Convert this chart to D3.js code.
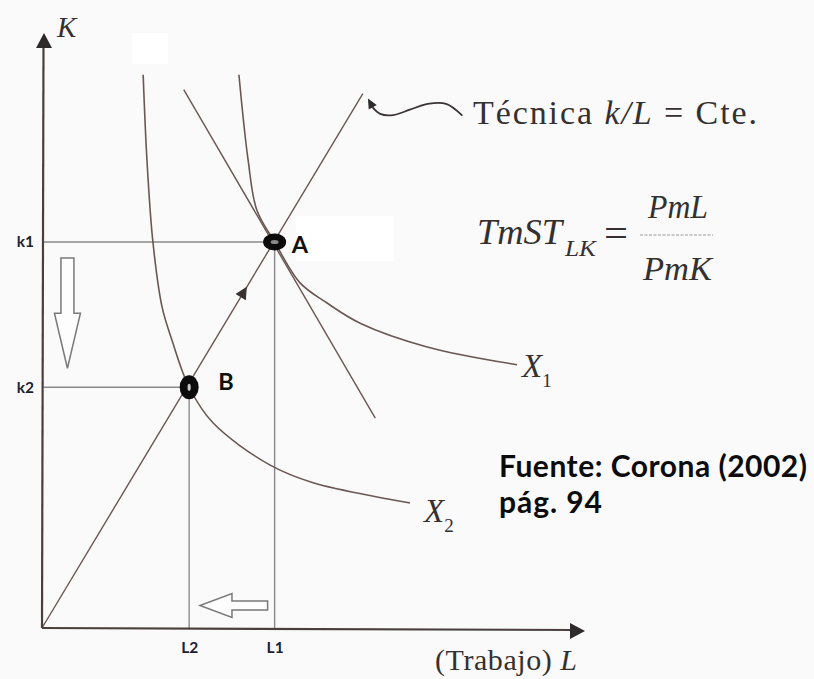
<!DOCTYPE html>
<html>
<head>
<meta charset="utf-8">
<script src="https://cdn.jsdelivr.net/npm/d3@7"></script>
<style>
  html, body { margin: 0; padding: 0; background: #fafafa; }
  svg { display: block; }
</style>
</head>
<body>
<svg id="chart" width="814" height="679"></svg>
<script>
// Capital (K) against labour (L): two isoquants, a constant k/L technique ray,
// and the move from A to B along that ray.

const laborDomain = [0, 10];
const capitalDomain = [0, 10];

const laborTicks = [2.72, 4.30];
const laborTickLabels = ["L2", "L1"];
const capitalTicks = [6.51, 4.06];
const capitalTickLabels = ["k1", "k2"];

const pointNames = ["A", "B"];
const pointL = [4.30, 2.72];
const pointK = [6.51, 4.06];

// isoquants, (L, K) pairs
const isoquantX1 = [[3.64, 9.33], [3.81, 7.89], [3.97, 7.05], [4.30, 6.51], [4.77, 5.82],
                    [5.27, 5.48], [5.88, 5.14], [7.12, 4.74], [8.78, 4.44]];
const isoquantX2 = [[1.87, 9.33], [1.94, 7.89], [2.05, 6.51], [2.22, 5.41], [2.40, 4.86],
                    [2.72, 4.06], [3.16, 3.46], [4.21, 2.75], [5.01, 2.45], [6.80, 2.11]];

// constant-technique ray and the TmST line through A
const techniqueRay = [[0, 0], [5.93, 9.01]];
const tangentAtA = [[2.62, 9.08], [6.16, 3.54]];
const rayMarkerL = 3.72;

// hand-drawn callout pointing at the ray
const calloutCurve = [[6.06, 8.87], [6.12, 8.77], [6.25, 8.67], [6.49, 8.65], [6.80, 8.74],
                      [7.13, 8.84], [7.47, 8.84], [7.76, 8.65]];

// hollow arrows showing the fall in K and in L
const shiftArrowK = [[0.47, 6.24], [0.47, 4.38]];
const shiftArrowL = [[4.17, 0.38], [2.92, 0.38]];

const svg = d3.select("#chart");
const W = 814, H = 679;

const x = d3.scaleLinear().domain(laborDomain).range([42, 583]);
const y = d3.scaleLinear().domain(capitalDomain).range([628, 35]);

const serif = "'Liberation Serif', 'DejaVu Serif', serif";
const sans = "Lato, 'Open Sans', 'Liberation Sans', sans-serif";
const inkCurve = "#6a5753";
const inkGuide = "#8a8888";
const inkAxis = "#4a3f3d";
const inkText = "#353030";

svg.append("rect").attr("width", W).attr("height", H).attr("fill", "#fafafa");
svg.append("rect").attr("x", 132).attr("y", 33).attr("width", 36).attr("height", 31).attr("fill", "#ffffff");
svg.append("rect").attr("x", 296).attr("y", 216).attr("width", 98).attr("height", 45).attr("fill", "#ffffff");

// guide lines from A and B to the axes
pointNames.forEach((n, i) => {
  svg.append("line")
    .attr("x1", x(0)).attr("x2", x(pointL[i]))
    .attr("y1", y(pointK[i])).attr("y2", y(pointK[i]))
    .attr("stroke", inkGuide).attr("stroke-width", 1.4);
  svg.append("line")
    .attr("x1", x(pointL[i])).attr("x2", x(pointL[i]))
    .attr("y1", y(pointK[i])).attr("y2", y(0))
    .attr("stroke", inkGuide).attr("stroke-width", 1.4);
});

const smooth = d3.line().x(d => x(d[0])).y(d => y(d[1])).curve(d3.curveCatmullRom.alpha(0.5));
const straight = d3.line().x(d => x(d[0])).y(d => y(d[1]));

[isoquantX1, isoquantX2].forEach(c => {
  svg.append("path").attr("d", smooth(c)).attr("fill", "none")
    .attr("stroke", inkCurve).attr("stroke-width", 1.6);
});
[techniqueRay, tangentAtA].forEach(c => {
  svg.append("path").attr("d", straight(c)).attr("fill", "none")
    .attr("stroke", inkCurve).attr("stroke-width", 1.4);
});

// small arrowhead on the ray
{
  const s = techniqueRay[1][1] / techniqueRay[1][0];
  const px = x(rayMarkerL), py = y(rayMarkerL * s);
  const ang = Math.atan2(y(techniqueRay[1][1]) - y(0), x(techniqueRay[1][0]) - x(0)) * 180 / Math.PI;
  svg.append("path").attr("d", "M7,0 L-5,-6 L-5,6 Z")
    .attr("transform", `translate(${px},${py}) rotate(${ang})`)
    .attr("fill", "#3a3232");
}

// axes
svg.append("line").attr("x1", x(0)).attr("y1", y(0)).attr("x2", x(0) + 1.5).attr("y2", y(capitalDomain[1]) + 10)
  .attr("stroke", inkAxis).attr("stroke-width", 2.2);
svg.append("line").attr("x1", x(0)).attr("y1", y(0)).attr("x2", x(laborDomain[1]) - 10).attr("y2", y(0) + 2)
  .attr("stroke", inkAxis).attr("stroke-width", 2.2);
svg.append("path").attr("d", "M0,0 L-8,15 L8,15 Z")
  .attr("transform", `translate(${x(0) + 2},${y(capitalDomain[1]) - 2})`).attr("fill", "#2e2a2a");
svg.append("path").attr("d", "M0,0 L-15,-8 L-15,8 Z")
  .attr("transform", `translate(${x(laborDomain[1]) + 2},${y(0) + 3})`).attr("fill", "#2e2a2a");

const xAxis = svg.append("g").attr("transform", `translate(0,${y(0)})`)
  .call(d3.axisBottom(x).tickValues(laborTicks).tickFormat((d, i) => laborTickLabels[i]).tickSize(0).tickPadding(14));
const yAxis = svg.append("g").attr("transform", `translate(${x(0)},0)`)
  .call(d3.axisLeft(y).tickValues(capitalTicks).tickFormat((d, i) => capitalTickLabels[i]).tickSize(0).tickPadding(8));
[xAxis, yAxis].forEach(g => {
  g.select(".domain").remove();
  g.selectAll("text").attr("font-family", sans).attr("font-weight", 700)
    .attr("font-size", 15.5).attr("fill", "#1d2230");
});

// hollow shift arrows
function hollowArrow(from, to, shaftHalf, headHalf, headLen) {
  const x0 = x(from[0]), y0 = y(from[1]), x1 = x(to[0]), y1 = y(to[1]);
  const len = Math.hypot(x1 - x0, y1 - y0);
  const ux = (x1 - x0) / len, uy = (y1 - y0) / len;
  const nx = -uy, ny = ux;
  const bx = x1 - ux * headLen, by = y1 - uy * headLen;
  const p = [
    [x0 + nx * shaftHalf, y0 + ny * shaftHalf],
    [bx + nx * shaftHalf, by + ny * shaftHalf],
    [bx + nx * headHalf, by + ny * headHalf],
    [x1, y1],
    [bx - nx * headHalf, by - ny * headHalf],
    [bx - nx * shaftHalf, by - ny * shaftHalf],
    [x0 - nx * shaftHalf, y0 - ny * shaftHalf]
  ];
  return "M" + p.map(q => q.join(",")).join("L") + "Z";
}
svg.append("path").attr("d", hollowArrow(shiftArrowK[0], shiftArrowK[1], 6.5, 13, 55))
  .attr("fill", "#fdfdfd").attr("stroke", "#7a7878").attr("stroke-width", 1.5);
svg.append("path").attr("d", hollowArrow(shiftArrowL[0], shiftArrowL[1], 4.5, 12, 32))
  .attr("fill", "#fdfdfd").attr("stroke", "#7a7878").attr("stroke-width", 1.5);

// callout to the ray
svg.append("path").attr("d", smooth(calloutCurve)).attr("fill", "none")
  .attr("stroke", "#3a3434").attr("stroke-width", 1.8).attr("stroke-linecap", "round");
{
  const a = calloutCurve[0], b = calloutCurve[1];
  const ang = Math.atan2(y(a[1]) - y(b[1]), x(a[0]) - x(b[0])) * 180 / Math.PI;
  svg.append("path").attr("d", "M4,0 L-6,-4.5 L-6,4.5 Z")
    .attr("transform", `translate(${x(a[0])},${y(a[1])}) rotate(${ang})`).attr("fill", "#2e2a2a");
}

// points A and B
svg.append("ellipse").attr("cx", x(pointL[0])).attr("cy", y(pointK[0])).attr("rx", 11.5).attr("ry", 8.5).attr("fill", "#0b0b0b");
svg.append("ellipse").attr("cx", x(pointL[0])).attr("cy", y(pointK[0])).attr("rx", 4).attr("ry", 2).attr("fill", "#8a8a8a");
svg.append("ellipse").attr("cx", x(pointL[1])).attr("cy", y(pointK[1])).attr("rx", 9.5).attr("ry", 12).attr("fill", "#0b0b0b");
svg.append("ellipse").attr("cx", x(pointL[1])).attr("cy", y(pointK[1])).attr("rx", 1.6).attr("ry", 3.6).attr("fill", "#c8c8c8");

svg.append("text").attr("x", x(pointL[0]) + 17).attr("y", y(pointK[0]) + 11)
  .attr("font-family", sans).attr("font-weight", 700).attr("font-size", 23.5).attr("fill", "#111").text(pointNames[0]);
svg.append("text").attr("x", x(pointL[1]) + 29).attr("y", y(pointK[1]) + 3)
  .attr("font-family", sans).attr("font-weight", 700).attr("font-size", 23.5).attr("fill", "#111").text(pointNames[1]);

// axis titles
svg.append("text").attr("x", 57).attr("y", 37).attr("font-family", serif).attr("font-style", "italic")
  .attr("font-size", 29).attr("fill", inkText).text("K");
{
  const t = svg.append("text").attr("x", 435).attr("y", 670).attr("font-family", serif)
    .attr("font-size", 30).attr("fill", inkText)
    .attr("textLength", 142).attr("lengthAdjust", "spacing");
  t.append("tspan").text("(Trabajo) ");
  t.append("tspan").attr("font-style", "italic").text("L");
}

// technique note
{
  const t = svg.append("text").attr("x", 473).attr("y", 124).attr("font-family", serif)
    .attr("font-size", 34).attr("fill", inkText)
    .attr("textLength", 284).attr("lengthAdjust", "spacing");
  t.append("tspan").text("Técnica ");
  t.append("tspan").attr("font-style", "italic").text("k/L");
  t.append("tspan").text("  =  Cte.");
}

// marginal rate of technical substitution
{
  svg.append("text").attr("x", 477).attr("y", 244).attr("font-family", serif)
    .attr("font-style", "italic").attr("font-size", 35).attr("fill", inkText)
    .attr("textLength", 85).attr("lengthAdjust", "spacingAndGlyphs").text("TmST");
  svg.append("text").attr("x", 565).attr("y", 256).attr("font-family", serif)
    .attr("font-style", "italic").attr("font-size", 24).attr("fill", inkText)
    .attr("textLength", 31).attr("lengthAdjust", "spacingAndGlyphs").text("LK");
  svg.append("text").attr("x", 604).attr("y", 247).attr("font-family", serif)
    .attr("font-size", 40).attr("fill", inkText)
    .attr("textLength", 24).attr("lengthAdjust", "spacingAndGlyphs").text("=");
  svg.append("text").attr("x", 648).attr("y", 218).attr("font-family", serif)
    .attr("font-style", "italic").attr("font-size", 33).attr("fill", inkText)
    .attr("textLength", 60).attr("lengthAdjust", "spacingAndGlyphs").text("PmL");
  svg.append("line").attr("x1", 640).attr("x2", 713).attr("y1", 235).attr("y2", 235)
    .attr("stroke", "#9a9696").attr("stroke-width", 1.2).attr("stroke-dasharray", "3,1.5");
  svg.append("text").attr("x", 643).attr("y", 280).attr("font-family", serif)
    .attr("font-style", "italic").attr("font-size", 33).attr("fill", inkText)
    .attr("textLength", 69).attr("lengthAdjust", "spacingAndGlyphs").text("PmK");
}

// isoquant labels
function isoLabel(px, py, sub) {
  const t = svg.append("text").attr("x", px).attr("y", py).attr("font-family", serif)
    .attr("font-size", 33).attr("fill", inkText);
  t.append("tspan").attr("font-style", "italic").text("X");
  t.append("tspan").attr("font-size", 19).attr("dy", 10).text(sub);
}
isoLabel(522, 377, "1");
isoLabel(424, 522, "2");

// source
svg.append("text").attr("x", 499).attr("y", 477).attr("font-family", sans).attr("font-weight", 700)
  .attr("font-size", 30).attr("fill", "#0c0c0c")
  .attr("textLength", 308).attr("lengthAdjust", "spacing").text("Fuente: Corona (2002)");
svg.append("text").attr("x", 499).attr("y", 513).attr("font-family", sans).attr("font-weight", 700)
  .attr("font-size", 30).attr("fill", "#0c0c0c")
  .attr("textLength", 103).attr("lengthAdjust", "spacing").text("pág. 94");
</script>
</body>
</html>
